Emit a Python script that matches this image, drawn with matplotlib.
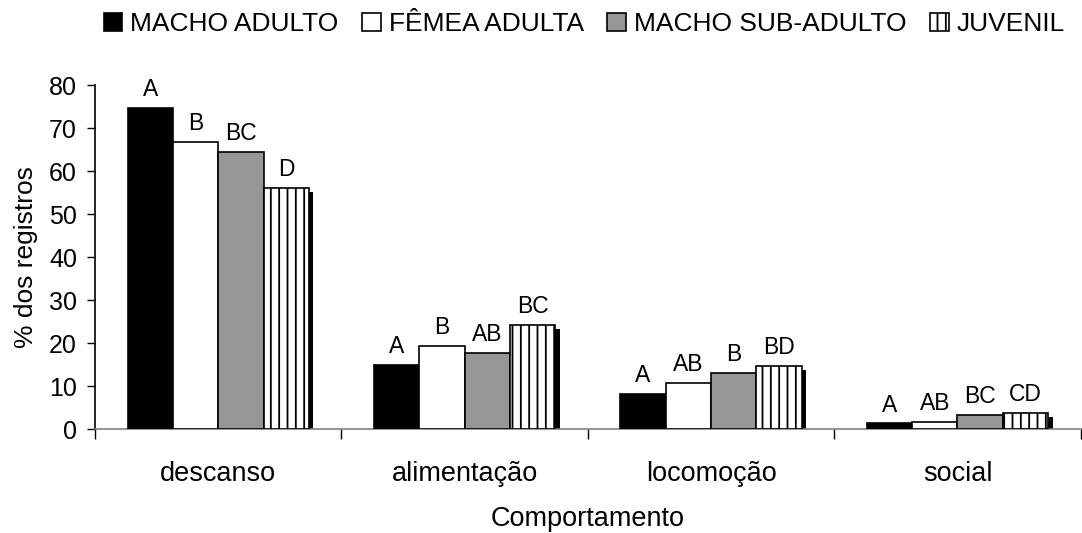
import numpy as np
import matplotlib
matplotlib.use("Agg")
import matplotlib.pyplot as plt

plt.rcParams['font.family'] = ['Liberation Sans', 'DejaVu Sans']
plt.rcParams['hatch.linewidth'] = 1.3

# dados
categorias = ['descanso', 'alimentação', 'locomoção', 'social']
grupos = ['MACHO ADULTO', 'FÊMEA ADULTA', 'MACHO SUB-ADULTO', 'JUVENIL']
macho_adulto = [74.7, 14.9, 8.1, 1.3]
femea_adulta = [66.7, 19.3, 10.7, 1.6]
macho_sub = [64.4, 17.7, 13.0, 3.3]
juvenil = [56.0, 24.2, 14.7, 3.7]
letras = [['A', 'A', 'A', 'A'],
          ['B', 'B', 'AB', 'AB'],
          ['BC', 'AB', 'B', 'BC'],
          ['D', 'BC', 'BD', 'CD']]

series = [macho_adulto, femea_adulta, macho_sub, juvenil]
cores = ['black', 'white', '#969696', 'white']
hatches = [None, None, None, '||']

fig = plt.figure(figsize=(10.82, 5.33), dpi=100)
ax = fig.add_axes([0.0878, 0.195, 0.911, 0.6455])

x = np.arange(len(categorias))
w = 0.184

for i, vals in enumerate(series):
    pos = x + (i - 1.5) * w
    if i == 3:
        # sombra do juvenil
        ax.bar(pos + 0.018, np.array(vals) - 0.9, w, color='black',
               edgecolor='black', linewidth=0, zorder=2)
    ax.bar(pos, vals, w, color=cores[i], edgecolor='black', linewidth=1.2,
           hatch=hatches[i], label=grupos[i], zorder=3)
    for p, v, t in zip(pos, vals, letras[i]):
        ax.text(p, v + 1.6, t, ha='center', va='bottom', fontsize=16.5)

ax.set_xlim(-0.5, 3.5)
ax.set_ylim(0, 80)
ax.set_yticks(np.arange(0, 81, 10))
ax.set_xticks(np.arange(-0.5, 4, 1))
ax.set_xticklabels([])
ax.set_xticks(x, minor=True)
ax.set_xticklabels(categorias, minor=True, fontsize=19.5)
ax.tick_params(axis='x', which='major', length=7, width=1, direction='out')
ax.tick_params(axis='x', which='minor', length=0, pad=23)
ax.tick_params(axis='y', length=6, width=1, labelsize=18, pad=7)

ax.spines['top'].set_visible(False)
ax.spines['right'].set_visible(False)
ax.spines['bottom'].set_color('#808080')
ax.spines['bottom'].set_linewidth(1.2)
ax.spines['left'].set_linewidth(1.2)

ax.set_ylabel('% dos registros', fontsize=19, labelpad=8)
ax.set_xlabel('Comportamento', fontsize=19.5, labelpad=14)

fig.legend(loc='center', bbox_to_anchor=(0.54, 0.955), ncol=4, frameon=False,
           fontsize=19, handlelength=0.7, handleheight=0.7,
           handletextpad=0.3, columnspacing=0.9)

fig.savefig('out.png', dpi=100)
